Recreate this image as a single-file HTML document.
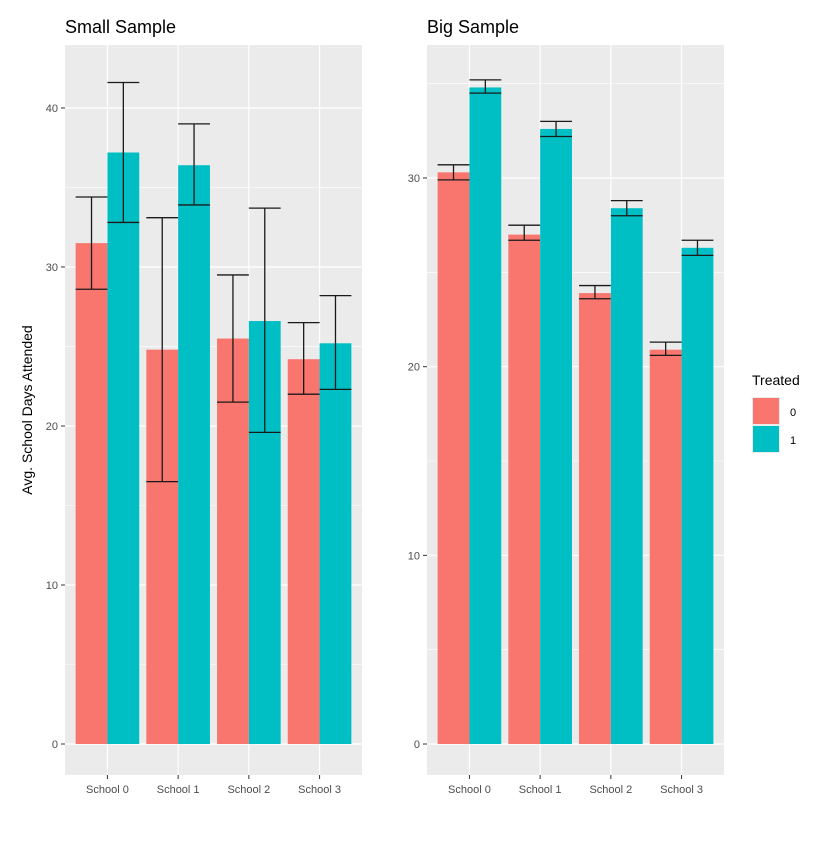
<!DOCTYPE html>
<html><head><meta charset="utf-8"><style>
body{margin:0;background:#fff;font-family:"Liberation Sans",sans-serif}
</style></head><body>
<svg id="c" width="840" height="840" xmlns="http://www.w3.org/2000/svg"></svg>
<script>
const categories=["School 0","School 1","School 2","School 3"];
const smallCtrl=[31.5,24.8,25.5,24.2];
const smallTreat=[37.2,36.4,26.6,25.2];
const smallCtrlLo=[28.6,16.5,21.5,22.0];
const smallCtrlHi=[34.4,33.1,29.5,26.5];
const smallTreatLo=[32.8,33.9,19.6,22.3];
const smallTreatHi=[41.6,39.0,33.7,28.2];
const bigCtrl=[30.3,27.0,23.9,20.9];
const bigTreat=[34.8,32.6,28.4,26.3];
const bigCtrlLo=[29.9,26.7,23.6,20.6];
const bigCtrlHi=[30.7,27.5,24.3,21.3];
const bigTreatLo=[34.5,32.2,28.0,25.9];
const bigTreatHi=[35.2,33.0,28.8,26.7];
const smallTicks=[0,10,20,30,40];
const bigTicks=[0,10,20,30];
const NS="http://www.w3.org/2000/svg";
const svg=document.getElementById('c');
function mk(t,a,p){const e=document.createElementNS(NS,t);for(const k in a)e.setAttribute(k,a[k]);(p||svg).appendChild(e);return e;}
function panel(name,x0,x1,yTop,yBot,y0px,ymax,ticks,ctrl,treat,cl,ch,tl,th,title){
  const g=mk('g',{});
  
  
  const bg=mk('rect',{x:x0,y:yTop,width:x1-x0,height:yBot-yTop,fill:'#ebebeb'},g);
  
  
  const sy=v=>y0px-(y0px-yTop)*v/ymax;
  const step=(x1-x0)/4.2;
  const sx=i=>x0+step*(i+0.6);
  for(let i=0;i<ticks.length-1;i++){
    const m=(ticks[i]+ticks[i+1])/2;
    if(sy(m)>yTop) mk('line',{x1:x0,x2:x1,y1:sy(m),y2:sy(m),stroke:'#fff','stroke-width':0.6},g);
  }
  const lastM=ticks[ticks.length-1]+ (ticks[1]-ticks[0])/2;
  if(sy(lastM)>yTop) mk('line',{x1:x0,x2:x1,y1:sy(lastM),y2:sy(lastM),stroke:'#fff','stroke-width':0.6},g);
  ticks.forEach(t=>{
    mk('line',{x1:x0,x2:x1,y1:sy(t),y2:sy(t),stroke:'#fff','stroke-width':1.2},g);
    mk('line',{x1:x0-4,x2:x0,y1:sy(t),y2:sy(t),stroke:'#333','stroke-width':1},g);
    const tx=mk('text',{x:x0-7,y:sy(t)+4,'text-anchor':'end','font-size':11,fill:'#4d4d4d'},g);
    tx.textContent=t;
    
    
  });
  categories.forEach((c,i)=>{
    mk('line',{x1:sx(i),x2:sx(i),y1:yTop,y2:yBot,stroke:'#fff','stroke-width':1.2},g);
    mk('line',{x1:sx(i),x2:sx(i),y1:yBot,y2:yBot+4,stroke:'#333','stroke-width':1},g);
    const tx=mk('text',{x:sx(i),y:yBot+18,'text-anchor':'middle','font-size':11,fill:'#4d4d4d'},g);
    tx.textContent=c;
    
    
    const bw=step*0.45;
    [[ctrl[i],cl[i],ch[i],'#f8766d',-1,'control'],[treat[i],tl[i],th[i],'#00bfc4',0,'treated']].forEach(([v,lo,hi,col,off,lab])=>{
      const bx=sx(i)+off*bw;
      const r=mk('rect',{x:bx,y:sy(v),width:bw,height:y0px-sy(v),fill:col},g);
      
      
      const eb=mk('path',{d:`M${bx} ${sy(hi)}H${bx+bw}M${bx+bw/2} ${sy(hi)}V${sy(lo)}M${bx} ${sy(lo)}H${bx+bw}`,stroke:'#1a1a1a','stroke-width':1.3,fill:'none'},g);
      
      
    });
  });
  const t=mk('text',{x:x0,y:33,'font-size':18,fill:'#000'},g);
  t.textContent=title;
  
  
}
panel('small',65,362,45,775,744,43.96,smallTicks,smallCtrl,smallTreat,smallCtrlLo,smallCtrlHi,smallTreatLo,smallTreatHi,'Small Sample');
panel('big',427,724,45,775,744,37.05,bigTicks,bigCtrl,bigTreat,bigCtrlLo,bigCtrlHi,bigTreatLo,bigTreatHi,'Big Sample');
const yt=mk('text',{x:0,y:0,'font-size':14,'text-anchor':'middle',fill:'#000',transform:'translate(32,410) rotate(-90)'});
yt.textContent='Avg. School Days Attended';


const lg=mk('g',{});


const lt=mk('text',{x:752,y:385,'font-size':14,fill:'#000'},lg);
lt.textContent='Treated';


[['0','#f8766d',397],['1','#00bfc4',425]].forEach(([l,c,y])=>{
  mk('rect',{x:752,y:y,width:28,height:28,fill:'#ebebeb'},lg);
  const k=mk('rect',{x:753,y:y+1,width:26,height:26,fill:c},lg);
  
  
  const t=mk('text',{x:790,y:y+19,'font-size':11,fill:'#000'},lg);
  t.textContent=l;
  
  
});
</script>
</body></html>
